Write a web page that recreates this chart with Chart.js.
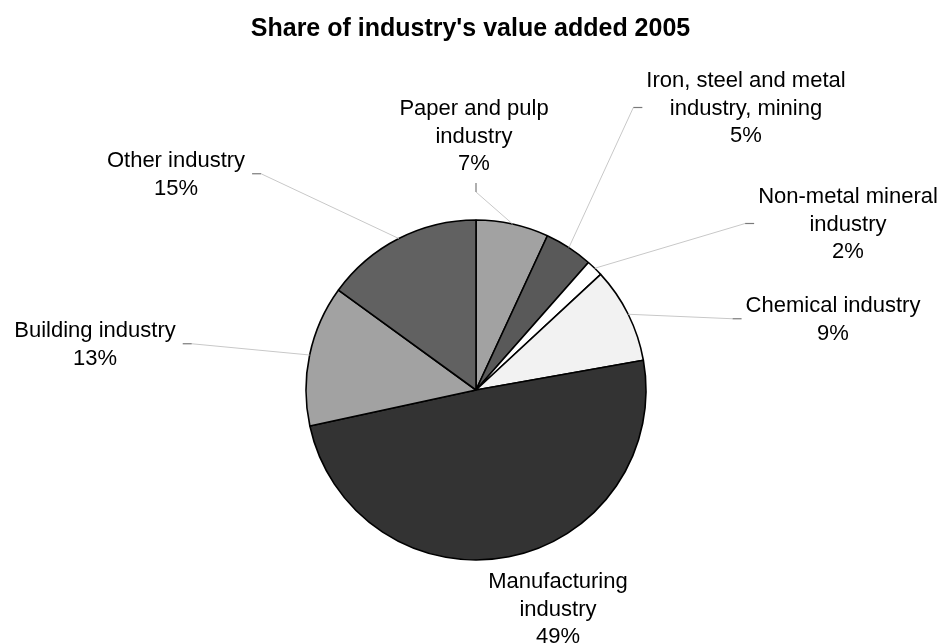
<!DOCTYPE html>
<html>
<head>
<meta charset="utf-8">
<title>Share of industry's value added 2005</title>
<script src="https://cdn.jsdelivr.net/npm/chart.js@4/dist/chart.umd.min.js"></script>
<style>
  html, body { margin: 0; padding: 0; background: #fff; }
  #chart { display: block; }
</style>
</head>
<body>
<canvas id="chart" width="941" height="644"></canvas>
<script>
'use strict';

// Data (clockwise from 12 o'clock)
const categories = [
    ['Paper and pulp', 'industry'],
    ['Iron, steel and metal', 'industry, mining'],
    ['Non-metal mineral', 'industry'],
    ['Chemical industry'],
    ['Manufacturing', 'industry'],
    ['Building industry'],
    ['Other industry']
];
const shares = [6.9, 4.6, 1.6, 9.1, 49.4, 13.4, 15.0];
const sliceColours = ['#a2a2a2', '#595959', '#ffffff', '#f2f2f2', '#333333', '#a2a2a2', '#616161'];
const chartTitle = "Share of industry's value added 2005";

// Label placement relative to the pie centre (block centre x, first baseline y)
const labelLayout = [
    { dx: -2, dy: -275, side: 'top' },
    { dx: 270, dy: -303, side: 'right' },
    { dx: 372, dy: -187, side: 'right' },
    { dx: 357, dy: -78, side: 'right' },
    { dx: 82, dy: 198, side: 'none' },
    { dx: -381, dy: -53, side: 'left' },
    { dx: -300, dy: -223, side: 'left' }
];

const FONT = '"Liberation Sans", Arial, sans-serif';
const LABEL_SIZE = 22;
const LINE_H = 27.5;

// Draws the title, slice labels, the short ticks and the leader lines
const pieLabels = {
    id: 'pieLabels',
    afterDraw(chart) {
        const ctx = chart.ctx;
        const arcs = chart.getDatasetMeta(0).data;
        ctx.save();

        // title, centred on the whole canvas
        ctx.fillStyle = '#000';
        ctx.font = `bold 25px ${FONT}`;
        ctx.textAlign = 'center';
        ctx.textBaseline = 'alphabetic';
        ctx.fillText(chartTitle, chart.width / 2, 35.5);

        ctx.font = `${LABEL_SIZE}px ${FONT}`;

        arcs.forEach((arc, i) => {
            const p = arc.getProps(['x', 'y', 'startAngle', 'endAngle', 'outerRadius'], true);
            const mid = (p.startAngle + p.endAngle) / 2;
            const ax = p.x + Math.cos(mid) * p.outerRadius;
            const ay = p.y + Math.sin(mid) * p.outerRadius;

            const lay = labelLayout[i];
            const lines = categories[i].concat([Math.round(shares[i]) + '%']);
            const cx = p.x + lay.dx;
            const base = p.y + lay.dy;
            const last = base + (lines.length - 1) * LINE_H;
            const midY = (base - 16 + last) / 2 + 1;
            const widest = Math.max(...lines.map(l => ctx.measureText(l).width));

            let tick = null;
            let joint = null;
            if (lay.side === 'right') {
                const x0 = cx - widest / 2 - 13;
                tick = [x0, midY, x0 + 9, midY];
                joint = [x0, midY];
            } else if (lay.side === 'left') {
                const x1 = cx + widest / 2 + 16;
                tick = [x1 - 9, midY, x1, midY];
                joint = [x1, midY];
            } else if (lay.side === 'top') {
                const tx = cx + 2;
                tick = [tx, last + 13, tx, last + 22];
                joint = [tx, last + 22];
            }

            if (joint) {
                ctx.strokeStyle = '#c8c8c8';
                ctx.lineWidth = 1;
                ctx.beginPath();
                ctx.moveTo(joint[0], joint[1]);
                ctx.lineTo(ax, ay);
                ctx.stroke();

                ctx.strokeStyle = '#7a7a7a';
                ctx.lineWidth = 1.2;
                ctx.beginPath();
                ctx.moveTo(tick[0], tick[1]);
                ctx.lineTo(tick[2], tick[3]);
                ctx.stroke();
            }

            ctx.fillStyle = '#000';
            lines.forEach((l, k) => ctx.fillText(l, cx, base + k * LINE_H));
        });
        ctx.restore();
    }
};

new Chart(document.getElementById('chart'), {
    type: 'pie',
    data: {
        labels: categories,
        datasets: [{
            data: shares,
            backgroundColor: sliceColours,
            borderColor: '#000',
            borderWidth: 1.6
        }]
    },
    options: {
        responsive: false,
        animation: false,
        radius: 170,
        layout: { padding: { left: 11, right: 0, top: 136, bottom: 0 } },
        plugins: {
            legend: { display: false },
            tooltip: { enabled: false },
            title: { display: false }
        }
    },
    plugins: [pieLabels]
});
</script>
</body>
</html>
